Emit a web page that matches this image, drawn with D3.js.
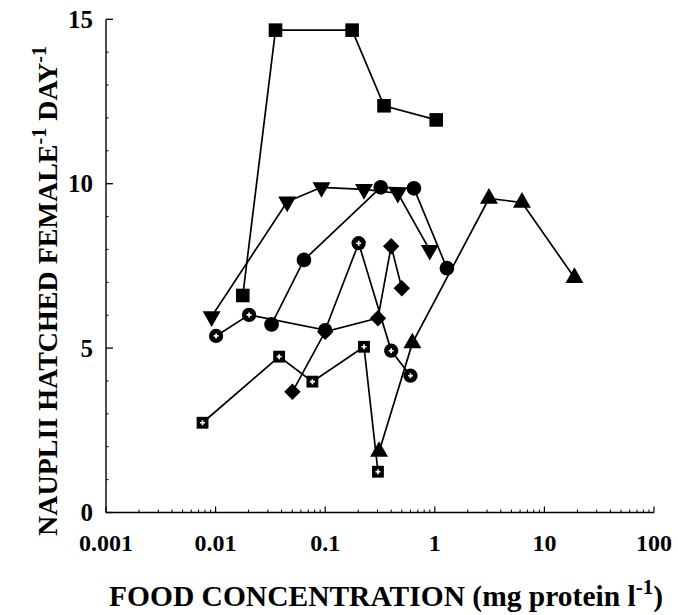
<!DOCTYPE html>
<html><head><meta charset="utf-8">
<script src="https://cdn.jsdelivr.net/npm/d3@7"></script>
<style>body{margin:0;background:#fff}svg{display:block}text{font-family:"Liberation Serif","Times New Roman",serif;font-weight:bold;fill:#000}</style>
</head><body><svg id="c" width="678" height="615"></svg>
<script>
// Series data: [food concentration (mg protein/l), nauplii hatched per female per day]
const filledSquares = [[0.0177,6.6],[0.0352,14.67],[0.176,14.67],[0.344,12.37],[1.03,11.94]];
const invTriangles = [[0.0092,5.96],[0.045,9.45],[0.0925,9.89],[0.226,9.83],[0.46,9.71],[0.90,7.98]];
const filledCircles = [[0.0324,5.72],[0.064,7.68],[0.321,9.89],[0.645,9.86],[1.29,7.43]];
const openCircles = [[0.0101,5.37],[0.0202,6.01],[0.1,5.55],[0.202,8.19],[0.40,4.92],[0.60,4.16]];
const diamonds = [[0.0502,3.67],[0.1,5.5],[0.303,5.91],[0.40,8.1],[0.50,6.82]];
const openSquares = [[0.0076,2.73],[0.038,4.74],[0.0764,3.98],[0.226,5.04],[0.303,1.24]];
const upTriangles = [[0.31,1.85],[0.624,5.15],[3.12,9.55],[6.24,9.43],[18.8,7.14]];
const xTickLabels = ["0.001","0.01","0.1","1","10","100"];
const xTickValues = [0.001,0.01,0.1,1,10,100];
const yTickValues = [0,5,10,15];

const svg = d3.select("#c");
const x = d3.scaleLog().domain([0.001,100]).range([106,654]);
const y = d3.scaleLinear().domain([0,15]).range([512.5,19.3]);

// axes
const g = svg.append("g");
g.append("line").attr("x1",106).attr("x2",106).attr("y1",y(15)).attr("y2",y(0)).attr("stroke","#000").attr("stroke-width",1.4);
g.append("line").attr("x1",106).attr("x2",654).attr("y1",y(0)).attr("y2",y(0)).attr("stroke","#000").attr("stroke-width",1.4);
// y ticks
yTickValues.forEach(v=>{
  g.append("line").attr("x1",106).attr("x2",113).attr("y1",y(v)).attr("y2",y(v)).attr("stroke","#000").attr("stroke-width",1.3);
  g.append("text").attr("x",93).attr("y",y(v)).attr("dy","0.35em").attr("text-anchor","end").attr("font-size",25).text(v);
});
d3.range(1,15).filter(v=>v%5).forEach(v=>{
  g.append("line").attr("x1",106).attr("x2",108.5).attr("y1",y(v)).attr("y2",y(v)).attr("stroke","#000").attr("stroke-width",1);
});
// x ticks
const minor = [];
for (let e=-3;e<2;e++) for (let m=2;m<10;m++) minor.push(m*Math.pow(10,e));
minor.forEach(v=>{
  g.append("line").attr("x1",x(v)).attr("x2",x(v)).attr("y1",y(0)).attr("y2",y(0)-3).attr("stroke","#000").attr("stroke-width",1);
});
xTickValues.forEach((v,i)=>{
  g.append("line").attr("x1",x(v)).attr("x2",x(v)).attr("y1",y(0)).attr("y2",y(0)-6).attr("stroke","#000").attr("stroke-width",1.2);
  g.append("text").attr("x",x(v)).attr("y",551).attr("text-anchor","middle").attr("font-size",24).text(xTickLabels[i]);
});

// titles
const xt = svg.append("text").attr("x",386).attr("y",606).attr("text-anchor","middle").attr("font-size",29.5);
xt.append("tspan").text("FOOD CONCENTRATION (mg protein l");
xt.append("tspan").attr("dy",-12).attr("font-size",21).text("-1");
xt.append("tspan").attr("dy",12).text(")");
const yt = svg.append("text").attr("transform","translate(57,291) rotate(-90)").attr("text-anchor","middle").attr("font-size",28);
yt.append("tspan").text("NAUPLII HATCHED FEMALE");
yt.append("tspan").attr("dy",-11).attr("font-size",20).text("-1");
yt.append("tspan").attr("dy",11).text(" DAY");
yt.append("tspan").attr("dy",-11).attr("font-size",20).text("-1");

const line = d3.line().x(d=>x(d[0])).y(d=>y(d[1]));
const series = [
  {data:filledSquares, type:"square"},
  {data:invTriangles, type:"invtri"},
  {data:filledCircles, type:"circle"},
  {data:openCircles, type:"ocircle"},
  {data:diamonds, type:"diamond"},
  {data:openSquares, type:"osquare"},
  {data:upTriangles, type:"tri"}
];
series.forEach(s=>{
  svg.append("path").attr("d",line(s.data)).attr("fill","none").attr("stroke","#000").attr("stroke-width",1.7);
});
const sym = {
  square: d3.symbol(d3.symbolSquare,185),
  invtri: d3.symbol(d3.symbolTriangle,140),
  tri: d3.symbol(d3.symbolTriangle,140),
  circle: d3.symbol(d3.symbolCircle,170),
  ocircle: d3.symbol(d3.symbolCircle,160),
  diamond: d3.symbol(d3.symbolSquare,135),
  osquare: d3.symbol(d3.symbolSquare,140)
};
series.forEach(s=>{
  const gg = svg.append("g");
  s.data.forEach(d=>{
    const cx=x(d[0]), cy=y(d[1]);
    const rot = s.type==="invtri"?" rotate(180)":(s.type==="diamond"?" rotate(45)":"");
    gg.append("path").attr("d",sym[s.type]()).attr("transform",`translate(${cx},${cy})${rot}`).attr("fill","#000");
    if (s.type==="ocircle"||s.type==="osquare"){
      gg.append("path").attr("d",d3.symbol(d3.symbolCross,14)()).attr("transform",`translate(${cx},${cy})`).attr("fill","#fff");
    }
  });
});
</script></body></html>
